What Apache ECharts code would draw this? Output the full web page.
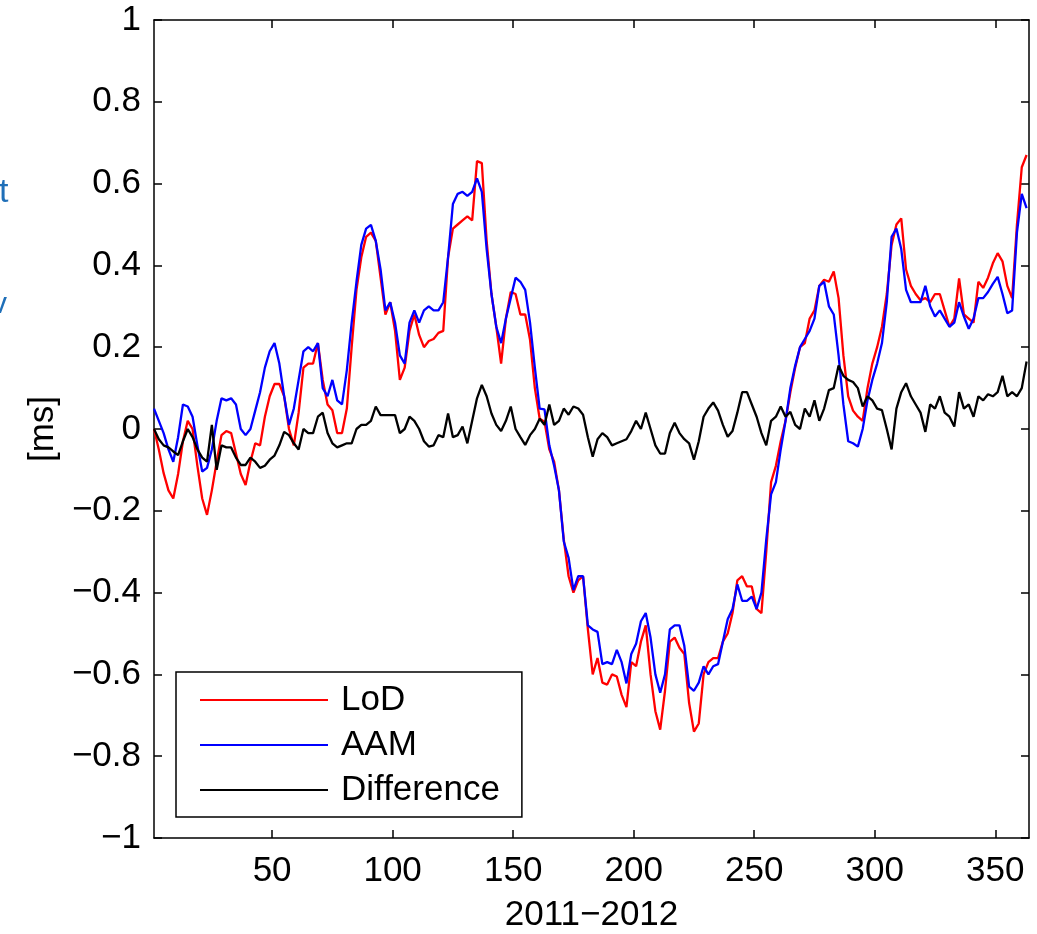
<!DOCTYPE html>
<html lang="en">
<head>
    <meta charset="UTF-8">
    <script src="https://cdn.jsdelivr.net/npm/echarts@6.0.0/dist/echarts.min.js"></script>
    <title>LoD vs AAM</title>
    <style>
        html, body { margin: 0; padding: 0; background: #fff; }
        #main { width: 1037px; height: 934px; }
    </style>
</head>
<body>
<div id="main"></div>
<script>
    // day of the 2011-2012 period, every second day
    var days = [];
    for (var d = 1; d <= 363; d += 2) days.push(d);

    // LoD [ms] (10 values per row = 20 days)
    var lod = [
        0.0, -0.05, -0.108, -0.15, -0.17, -0.11, -0.03, 0.02, 0.0, -0.09,
        -0.17, -0.21, -0.15, -0.08, -0.015, -0.005, -0.01, -0.06, -0.11, -0.137,
        -0.08, -0.035, -0.04, 0.03, 0.08, 0.11, 0.11, 0.08, 0.0, -0.04,
        0.04, 0.15, 0.16, 0.16, 0.21, 0.12, 0.06, 0.046, -0.01, -0.01,
        0.05, 0.2, 0.34, 0.42, 0.47, 0.48, 0.46, 0.37, 0.28, 0.31,
        0.24, 0.12, 0.15, 0.24, 0.28, 0.23, 0.2, 0.215, 0.22, 0.235,
        0.24, 0.42, 0.49, 0.5, 0.51, 0.52, 0.51, 0.655, 0.65, 0.46,
        0.33, 0.25, 0.16, 0.27, 0.335, 0.33, 0.28, 0.28, 0.218, 0.1,
        0.025, 0.018, -0.05, -0.08, -0.15, -0.27, -0.36, -0.4, -0.37, -0.36,
        -0.49, -0.6, -0.56, -0.62, -0.625, -0.6, -0.605, -0.65, -0.68, -0.57,
        -0.58, -0.52, -0.48, -0.6, -0.69, -0.735, -0.64, -0.52, -0.51, -0.535,
        -0.55, -0.67, -0.74, -0.72, -0.6, -0.57, -0.56, -0.56, -0.52, -0.5,
        -0.45, -0.37, -0.36, -0.385, -0.385, -0.44, -0.45, -0.3, -0.13, -0.09,
        -0.03, 0.02, 0.09, 0.15, 0.2, 0.21, 0.27, 0.29, 0.35, 0.365,
        0.36, 0.385, 0.32, 0.18, 0.08, 0.045, 0.03, 0.02, 0.1, 0.16,
        0.2, 0.25, 0.33, 0.45, 0.5, 0.515, 0.39, 0.35, 0.33, 0.315,
        0.32, 0.31, 0.33, 0.33, 0.29, 0.25, 0.27, 0.368, 0.28, 0.27,
        0.26, 0.36, 0.345, 0.37, 0.405, 0.43, 0.41, 0.35, 0.32, 0.5,
        0.64, 0.67
    ];

    // AAM [ms]
    var aam = [
        0.05, 0.02, -0.01, -0.05, -0.08, -0.02, 0.06, 0.055, 0.03, -0.04,
        -0.104, -0.095, -0.05, 0.02, 0.075, 0.07, 0.075, 0.06, 0.0, -0.015,
        0.0, 0.045, 0.09, 0.15, 0.19, 0.21, 0.16, 0.08, 0.01, 0.05,
        0.12, 0.19, 0.2, 0.19, 0.21, 0.1, 0.08, 0.12, 0.07, 0.06,
        0.144, 0.26, 0.36, 0.45, 0.49, 0.499, 0.46, 0.39, 0.29, 0.31,
        0.26, 0.18, 0.16, 0.26, 0.29, 0.26, 0.29, 0.3, 0.29, 0.29,
        0.31, 0.42, 0.55, 0.575, 0.58, 0.57, 0.58, 0.613, 0.58, 0.44,
        0.33, 0.25, 0.21, 0.27, 0.32, 0.37, 0.36, 0.34, 0.26, 0.15,
        0.05, 0.048, -0.04, -0.09, -0.15, -0.275, -0.315, -0.394, -0.36, -0.36,
        -0.48, -0.49, -0.496, -0.575, -0.57, -0.575, -0.54, -0.57, -0.622, -0.55,
        -0.525, -0.47, -0.45, -0.51, -0.6, -0.645, -0.6, -0.49, -0.48, -0.48,
        -0.53, -0.63, -0.64, -0.62, -0.58, -0.6, -0.58, -0.575, -0.52, -0.465,
        -0.44, -0.38, -0.42, -0.42, -0.41, -0.44, -0.4, -0.27, -0.16, -0.13,
        -0.05, 0.02, 0.1, 0.155, 0.2, 0.22, 0.24, 0.27, 0.35, 0.36,
        0.3, 0.28, 0.18, 0.06, -0.03, -0.035, -0.043, 0.0, 0.07, 0.12,
        0.16, 0.21, 0.31, 0.47, 0.49, 0.44, 0.34, 0.31, 0.31, 0.31,
        0.35, 0.3, 0.275, 0.29, 0.27, 0.25, 0.26, 0.31, 0.275, 0.245,
        0.27, 0.32, 0.32, 0.335, 0.355, 0.372, 0.33, 0.283, 0.29, 0.48,
        0.575, 0.54
    ];

    // Difference [ms]
    var diff = [
        0.0, -0.025, -0.04, -0.045, -0.055, -0.064, -0.03, 0.0, -0.02, -0.05,
        -0.07, -0.08, 0.01, -0.1, -0.04, -0.045, -0.045, -0.07, -0.088, -0.088,
        -0.07, -0.08, -0.095, -0.09, -0.075, -0.065, -0.04, -0.007, -0.015, -0.035,
        -0.05, 0.0, -0.01, -0.01, 0.03, 0.04, -0.01, -0.035, -0.045, -0.04,
        -0.035, -0.035, 0.0, 0.01, 0.01, 0.02, 0.055, 0.034, 0.034, 0.034,
        0.034, -0.01, 0.0, 0.03, 0.02, 0.0, -0.03, -0.043, -0.04, -0.015,
        -0.02, 0.038, -0.02, -0.015, 0.006, -0.035, 0.02, 0.075, 0.108, 0.08,
        0.038, 0.01, -0.005, 0.02, 0.055, 0.0, -0.02, -0.039, -0.015, 0.0,
        0.025, 0.01, 0.06, 0.01, 0.02, 0.05, 0.035, 0.055, 0.05, 0.035,
        -0.02, -0.068, -0.025, -0.01, -0.02, -0.04, -0.035, -0.03, -0.025, -0.005,
        0.02, 0.0, 0.04, 0.0, -0.04, -0.06, -0.06, -0.01, 0.015, -0.01,
        -0.025, -0.035, -0.075, -0.03, 0.03, 0.05, 0.065, 0.045, 0.01, -0.019,
        -0.005, 0.04, 0.09, 0.09, 0.06, 0.03, -0.01, -0.04, 0.02, 0.03,
        0.055, 0.03, 0.042, 0.01, 0.0, 0.05, 0.03, 0.07, 0.02, 0.05,
        0.095, 0.1, 0.155, 0.13, 0.12, 0.115, 0.1, 0.055, 0.08, 0.07,
        0.05, 0.046, 0.0, -0.05, 0.05, 0.09, 0.112, 0.08, 0.06, 0.04,
        -0.007, 0.06, 0.05, 0.08, 0.04, 0.03, 0.006, 0.09, 0.05, 0.06,
        0.03, 0.08, 0.07, 0.085, 0.08, 0.09, 0.13, 0.08, 0.09, 0.08,
        0.1, 0.165
    ];

    var xTicks = [50, 100, 150, 200, 250, 300, 350];

    var FONT = "'Liberation Sans', Arial, sans-serif";

    function pairs(vals) {
        return days.map(function (d, i) { return [d, vals[i]]; });
    }
    function yFmt(v) {
        var s = String(Number(Math.abs(v).toFixed(1)));
        return v < -1e-9 ? '\u2212' + s : s;
    }

    var axisLine = { show: true, onZero: false, lineStyle: { color: '#000', width: 1.5 } };
    var tick = { show: true, inside: true, length: 8, lineStyle: { color: '#000', width: 1.5 } };

    var myChart = echarts.init(document.getElementById('main'));

    var option = {
        backgroundColor: '#fff',
        animation: false,
        grid: { left: 154, right: 8, top: 20, bottom: 96, containLabel: false, outerBoundsMode: 'none' },
        legend: {
            orient: 'vertical',
            left: 176,
            top: 672,
            padding: [8, 22, 7, 24],
            itemGap: 5,
            itemWidth: 128,
            itemHeight: 2,
            icon: 'rect',
            backgroundColor: '#fff',
            borderColor: '#000',
            borderWidth: 1.5,
            borderRadius: 0,
            textStyle: { fontFamily: FONT, fontSize: 35, color: '#000', lineHeight: 40, padding: [0, 0, 0, 8] },
            data: ['LoD', 'AAM', 'Difference']
        },
        xAxis: [
            {
                type: 'value', min: 1, max: 364, position: 'bottom',
                name: '2011\u22122012', nameLocation: 'middle', nameGap: 60,
                nameTextStyle: { fontFamily: FONT, fontSize: 35, color: '#000' },
                axisLine: axisLine,
                axisTick: Object.assign({ customValues: xTicks }, tick),
                axisLabel: { customValues: xTicks, margin: 16, fontFamily: FONT, fontSize: 35, color: '#000' },
                splitLine: { show: false }
            },
            {
                type: 'value', min: 1, max: 364, position: 'top',
                axisLine: axisLine,
                axisTick: Object.assign({ customValues: xTicks }, tick),
                axisLabel: { show: false },
                splitLine: { show: false }
            }
        ],
        yAxis: [
            {
                type: 'value', min: -1, max: 1, interval: 0.2, position: 'left',
                name: '[ms]', nameLocation: 'middle', nameGap: 92, nameRotate: 90,
                nameTextStyle: { fontFamily: FONT, fontSize: 35, color: '#000' },
                axisLine: axisLine,
                axisTick: tick,
                axisLabel: { formatter: yFmt, margin: 13, fontFamily: FONT, fontSize: 35, color: '#000' },
                splitLine: { show: false }
            },
            {
                type: 'value', min: -1, max: 1, interval: 0.2, position: 'right',
                axisLine: axisLine,
                axisTick: tick,
                axisLabel: { show: false },
                splitLine: { show: false }
            }
        ],
        graphic: [
            { type: 'text', left: -1, top: 176, style: { text: 't', fontFamily: FONT, fontSize: 34, fill: '#1f6fb8' } },
            { type: 'text', left: -8, top: 290, style: { text: 'v', fontFamily: FONT, fontSize: 30, fill: '#1f6fb8' } }
        ],
        series: [
            {
                name: 'LoD', type: 'line', data: pairs(lod), symbol: 'none',
                lineStyle: { color: '#ff0000', width: 2.3 }, itemStyle: { color: '#ff0000' }
            },
            {
                name: 'AAM', type: 'line', data: pairs(aam), symbol: 'none',
                lineStyle: { color: '#0000ff', width: 2.3 }, itemStyle: { color: '#0000ff' }
            },
            {
                name: 'Difference', type: 'line', data: pairs(diff), symbol: 'none',
                lineStyle: { color: '#000', width: 2.3 }, itemStyle: { color: '#000' }
            }
        ]
    };

    myChart.setOption(option);
</script>
</body>
</html>
